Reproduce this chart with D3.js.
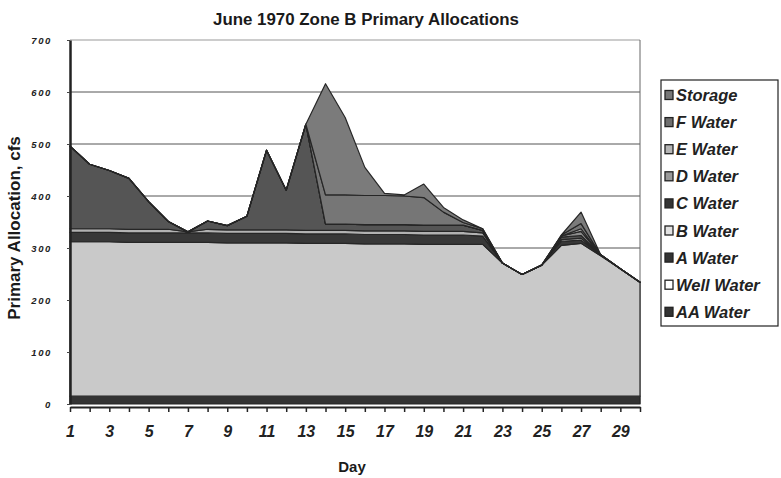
<!DOCTYPE html>
<html>
  <body style="margin:0;background:#fff">
    <script src="https://cdn.jsdelivr.net/npm/d3@7"></script>
    <script>
// June 1970 Zone B primary allocations, stacked area chart
var days = [1,2,3,4,5,6,7,8,9,10,11,12,13,14,15,16,17,18,19,20,21,22,23,24,25,26,27,28,29,30];

// series values, bottom of the stack first
var aaWater    = [15,15,15,15,15,15,15,15,15,15,15,15,15,15,15,15,15,15,15,15,15,15,15,15,15,15,15,15,15,15];
var wellWater  = [297,297,297,296,296,296,296,296,295,295,295,295,294,294,294,293,293,293,292,292,292,292,256,234,252,290,294,270,245,219];
var aWater     = [18,18,18,18,18,18,18,18,18,18,18,18,18,18,18,18,18,18,18,18,18,16,0,0,0,8,6,2,0,0];
var bWater     = [7,7,7,7,7,7,2,7,7,7,7,7,7,7,7,7,7,7,7,7,7,6,0,0,0,3,4,0,0,0];
var cWater     = [159,124,112,98,53,15,0,16,8,26,153,76,204,12,12,12,12,12,12,12,12,5,0,0,0,5,5,0,0,0];
var dWater     = [0,0,0,0,0,0,0,0,0,0,0,0,0,0,0,0,0,0,0,0,0,0,0,0,0,2,8,0,0,0];
var eWater     = [0,0,0,0,0,0,0,0,0,0,0,0,0,0,0,0,0,0,0,0,0,0,0,0,0,0,5,0,0,0];
var fWater     = [0,0,0,0,0,0,0,0,0,0,0,0,0,56,56,56,56,55,53,25,5,3,0,0,0,2,10,0,0,0];
var storage    = [0,0,0,0,0,0,0,0,0,0,0,0,0,214,149,54,4,2,26,9,5,0,0,0,0,0,22,0,0,0];

var seriesNames = ["AA Water","Well Water","A Water","B Water","C Water","D Water","E Water","F Water","Storage"];
var seriesValues = [aaWater, wellWater, aWater, bWater, cWater, dWater, eWater, fWater, storage];
var areaColors = ["#333333","#c9c9c9","#383838","#b2b2b2","#555555","#8c8c8c","#a8a8a8","#767676","#7b7b7b"];
var swatchColors = ["#333333","#ffffff","#333333","#e2e2e2","#333333","#999999","#b5b5b5","#6e6e6e","#777777"];

var yTicks = [0,100,200,300,400,500,600,700];
var xLabels = [1,3,5,7,9,11,13,15,17,19,21,23,25,27,29];

var width = 781, height = 478;
var font = "'Liberation Sans', Arial, sans-serif";

// table for d3.stack
var rows = days.map(function(d, i) {
  var r = { day: d };
  seriesNames.forEach(function(n, k) { r[n] = seriesValues[k][i]; });
  return r;
});

var x = d3.scaleLinear().domain([1, 30]).range([70, 640]);
var y = d3.scaleLinear().domain([0, 700]).range([404, 40]);

var svg = d3.select("body").append("svg")
  .attr("width", width)
  .attr("height", height)
  .style("font-family", font);

// title
svg.append("text")
  .attr("x", 366).attr("y", 25)
  .attr("text-anchor", "middle")
  .attr("font-size", 16).attr("font-weight", "bold")
  .attr("fill", "#1a1a1a")
  .attr("textLength", 306).attr("lengthAdjust", "spacingAndGlyphs")
  .text("June 1970 Zone B Primary Allocations");

// gridlines (behind areas)
svg.append("g")
  .selectAll("line")
  .data(yTicks.filter(function(t) { return t > 0; }))
  .join("line")
  .attr("x1", x(1)).attr("x2", x(30))
  .attr("y1", function(d) { return y(d); })
  .attr("y2", function(d) { return y(d); })
  .attr("stroke", d => d == 700 ? "#999" : "#555")
  .attr("stroke-width", 1);

// right border of plot
svg.append("line")
  .attr("x1", x(30)).attr("x2", x(30))
  .attr("y1", y(700)).attr("y2", y(0))
  .attr("stroke", "#666");

var stack = d3.stack().keys(seriesNames);
var layers = stack(rows);

var area = d3.area()
  .x(function(d) { return x(d.data.day); })
  .y0(function(d) { return y(d[0]); })
  .y1(function(d) { return y(d[1]); });

svg.append("g")
  .selectAll("path")
  .data(layers)
  .join("path")
  .attr("d", area)
  .attr("fill", function(d, i) { return areaColors[i]; })
  .attr("stroke", "#262626")
  .attr("stroke-width", 1.2)
  .attr("stroke-linejoin", "round");

// y axis
var yAxis = svg.append("g")
  .attr("transform", "translate(" + x(1) + ",0)")
  .call(d3.axisLeft(y).tickValues(yTicks).tickSize(3).tickSizeOuter(0).tickPadding(15));
yAxis.select(".domain").attr("stroke", "#222").attr("stroke-width", 2.5);
yAxis.selectAll("line").attr("stroke", "#444");
yAxis.selectAll("text")
  .attr("font-size", 9.5).attr("font-weight", "bold").attr("font-style", "italic")
  .attr("letter-spacing", 1.6)
  .attr("fill", "#222")
  .attr("font-family", font);

// x axis, slightly below zero like the original
var xAxis = svg.append("g")
  .attr("transform", "translate(0," + (y(0) + 3) + ")")
  .call(d3.axisBottom(x).tickValues(days).tickSize(5).tickSizeOuter(0)
    .tickFormat(function(d) { return xLabels.indexOf(d) >= 0 ? d : ""; }));
xAxis.select(".domain").attr("stroke", "#222").attr("stroke-width", 2);
xAxis.selectAll("line").attr("stroke", "#222").attr("stroke-width", 1.5);
xAxis.selectAll("text")
  .attr("dy", "1.4em")
  .attr("font-size", 16).attr("font-weight", "bold").attr("font-style", "italic")
  .attr("fill", "#222")
  .attr("font-family", font);

// axis titles
svg.append("text")
  .attr("transform", "translate(20,228) rotate(-90)")
  .attr("text-anchor", "middle")
  .attr("font-size", 17).attr("font-weight", "bold")
  .attr("fill", "#1a1a1a")
  .text("Primary Allocation, cfs");

svg.append("text")
  .attr("x", 352).attr("y", 472)
  .attr("text-anchor", "middle")
  .attr("font-size", 15).attr("font-weight", "bold")
  .attr("fill", "#1a1a1a")
  .text("Day");

// legend, top entry is the top of the stack
var legend = svg.append("g");
legend.append("rect")
  .attr("x", 661).attr("y", 80)
  .attr("width", 117).attr("height", 246)
  .attr("fill", "#fff").attr("stroke", "#222").attr("stroke-width", 1.2);

var legendItems = seriesNames.map(function(n, i) { return { name: n, color: swatchColors[i] }; }).reverse();

var item = legend.selectAll("g.item")
  .data(legendItems)
  .join("g")
  .attr("class", "item")
  .attr("transform", function(d, i) { return "translate(665," + (95 + i * 27.1) + ")"; });

item.append("rect")
  .attr("x", 0).attr("y", -4.5)
  .attr("width", 8).attr("height", 9)
  .attr("fill", function(d) { return d.color; })
  .attr("stroke", "#222").attr("stroke-width", 1.3);

item.append("text")
  .attr("x", 11).attr("y", 6)
  .attr("font-size", 16.5).attr("font-weight", "bold").attr("font-style", "italic")
  .attr("fill", "#222")
  .text(function(d) { return d.name; });
    </script>
  </body>
</html>
